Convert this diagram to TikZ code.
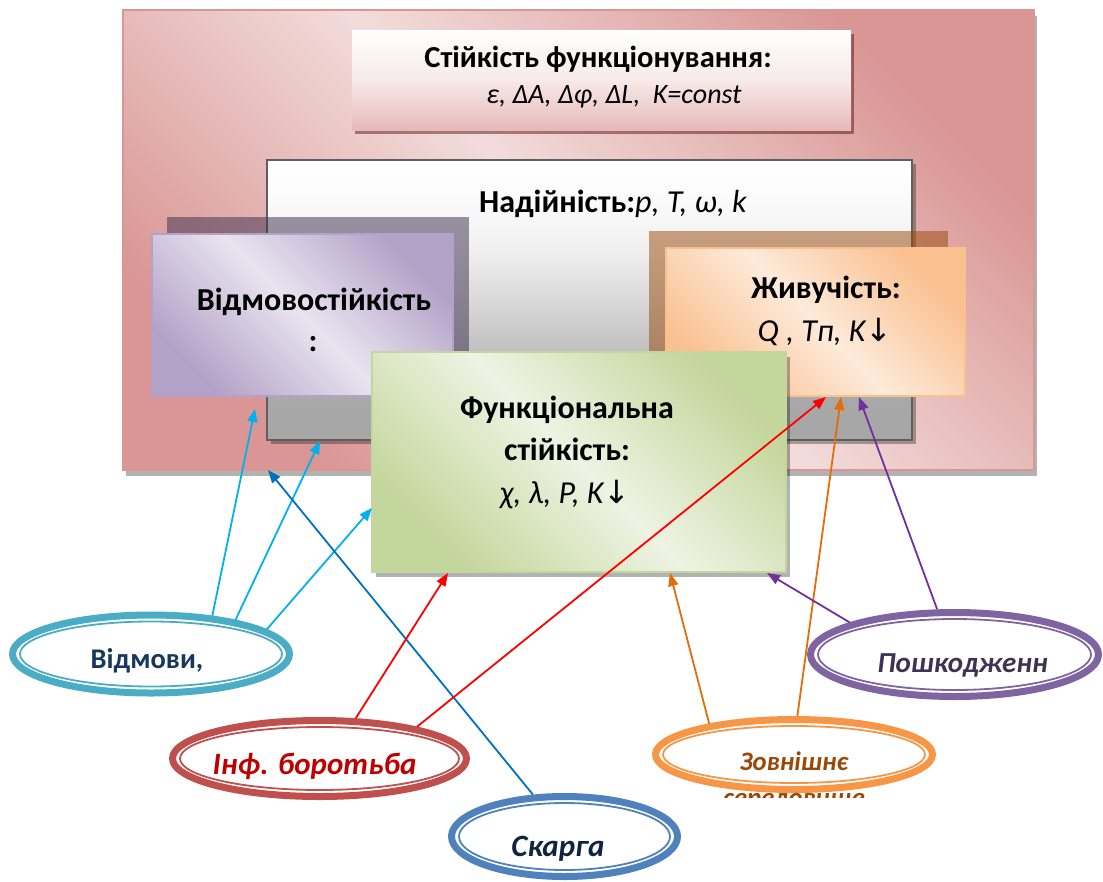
\documentclass[tikz,border=0pt]{standalone}
\usepackage{fontspec}
\setmainfont{Carlito}
\newfontfamily\arrowfont{DejaVu Sans}
\usetikzlibrary{calc,shapes.geometric,shadows,arrows.meta}

% palette
\definecolor{pinkDark}{HTML}{D99694}
\definecolor{pinkLight}{HTML}{F2DCDB}
\definecolor{pinkMid}{HTML}{E6B9B8}
\definecolor{lilacDark}{HTML}{B3A2C7}
\definecolor{lilacLight}{HTML}{E9E4F0}
\definecolor{peachDark}{HTML}{FAC090}
\definecolor{peachLight}{HTML}{FDEADA}
\definecolor{greenDark}{HTML}{C3D69B}
\definecolor{greenLight}{HTML}{EEF3E3}
\definecolor{frameGrey}{HTML}{5F5F5F}
\definecolor{backLilac}{HTML}{3F3151}
\definecolor{backBrown}{HTML}{984807}
\definecolor{gA}{HTML}{A6A6A6}
\definecolor{gB}{HTML}{A8A8A8}
\definecolor{gC}{HTML}{BEBEBE}
\definecolor{gD}{HTML}{CBCBCB}
\definecolor{gE}{HTML}{D9D9D9}
\definecolor{gF}{HTML}{F0F0F0}
\definecolor{gG}{HTML}{FBFBFB}
% connectors
\definecolor{lnSky}{HTML}{00B0F0}
\definecolor{lnBlue}{HTML}{0070C0}
\definecolor{lnRed}{HTML}{FF0000}
\definecolor{lnOrange}{HTML}{E46C0A}
\definecolor{lnViolet}{HTML}{7030A0}
% ovals
\definecolor{rgCyan}{HTML}{4BACC6}
\definecolor{rgRed}{HTML}{C0504D}
\definecolor{rgBlue}{HTML}{4F81BD}
\definecolor{rgOrange}{HTML}{F79646}
\definecolor{rgViolet}{HTML}{8064A2}
\definecolor{txNavy}{HTML}{17375E}
\definecolor{txRed}{HTML}{C00000}
\definecolor{txDeep}{HTML}{0F243E}
\definecolor{txBrown}{HTML}{984807}
\definecolor{txPlum}{HTML}{3F3151}

\pgfdeclareverticalshading{greyfade}{100bp}{color(0bp)=(gA); color(25bp)=(gA); color(32bp)=(gB); color(40bp)=(gC); color(45bp)=(gD); color(50bp)=(gE); color(59bp)=(gF); color(68bp)=(gG); color(75bp)=(white); color(100bp)=(white)}

\newcommand\dnarrow{{\arrowfont\upshape\mdseries ↓}}

\begin{document}
\begin{tikzpicture}[x=1pt,y=-1pt,
  box/.style={rectangle, inner sep=0pt, outer sep=0pt, anchor=north west},
  diag/.style 2 args={top color=#1, bottom color=#1, middle color=#2, shading angle=-45},
  ring/.style={ellipse, draw=#1, line width=7pt, fill=white, inner sep=0pt},
  innerring/.style={draw=#1, line width=1.8pt},
  conn/.style={draw=#1, line width=1.8pt, -{Triangle[length=13pt,width=10pt]}},
  headtxt/.style={font=\fontsize{30.5}{36}\selectfont\bfseries, anchor=base},
  headital/.style={font=\fontsize{28}{34}\selectfont\itshape, anchor=base},
  boxtxt/.style={font=\fontsize{32}{38}\selectfont\bfseries, anchor=base},
  boxital/.style={font=\fontsize{32}{38}\selectfont\itshape, anchor=base},
  ovtxt/.style={font=\fontsize{28.5}{34}\selectfont\bfseries, anchor=base},
  ovital/.style={font=\fontsize{31}{36}\selectfont\bfseries\itshape, anchor=base},
]
\useasboundingbox (0,0) rectangle (1103,881);
\clip (0,0) rectangle (1103,881);

% outer frame
\node[box, minimum width=911, minimum height=460, draw=pinkDark, line width=1.5pt,
  diag={pinkDark}{pinkLight},
  drop shadow={shadow xshift=3pt, shadow yshift=-6pt, fill=black, opacity=.3}]
  (frame) at (123,10) {};

% title box
\node[box, minimum width=499, minimum height=100,
  top color=white, bottom color=pinkMid, middle color=pinkLight!60!white,
  drop shadow={shadow xshift=3pt, shadow yshift=-4pt, fill=black!70!red, opacity=.45}]
  (title) at (352,30) {};
\node[headtxt] (titleA) at (598,67) {Стійкість функціонування:};
\node[headital] (titleB) at (614,103) {ε, ΔA, Δφ, ΔL,~ K=const};

% reliability box
\node[box, minimum width=645, minimum height=280, draw=frameGrey, line width=2pt,
  shading=greyfade,
  drop shadow={shadow xshift=4pt, shadow yshift=-4pt, fill=black, opacity=.3}]
  (nad) at (267,160) {};
\node[boxtxt] (nadT) at (613,212) {Надійність:\textit{\mdseries p, T, ω, k}};

% fault tolerance box with its offset back plate
\node[box, minimum width=302, minimum height=162, fill=backLilac, fill opacity=.52]
  (vidBack) at (167,217) {};
\node[box, minimum width=301, minimum height=162, draw=lilacDark, line width=1.5pt,
  diag={lilacDark}{lilacLight}] (vid) at (152,234) {};
\node[boxtxt] (vidT) at (314,310) {Відмовостійкість};
\node[boxtxt] (vidC) at (313,351) {:};

% survivability box with its offset back plate
\node[box, minimum width=299, minimum height=148, fill=backBrown, fill opacity=.5]
  (zivBack) at (649,231) {};
\node[box, minimum width=299, minimum height=148, draw=peachDark, line width=1.5pt,
  diag={peachDark}{peachLight}] (ziv) at (666,248) {};
\node[boxtxt] (zivT) at (826,298) {Живучість:};
\node[boxital] (zivP) at (825,341) {Q , Tп, K\dnarrow};

% functional stability box
\node[box, minimum width=414, minimum height=220, draw=greenDark, line width=1.5pt,
  diag={greenDark}{greenLight},
  drop shadow={shadow xshift=4pt, shadow yshift=-5pt, fill=black, opacity=.3}]
  (fun) at (372,352) {};
\node[boxtxt] (funA) at (567,418) {Функціональна};
\node[boxtxt] (funB) at (567,460) {стійкість:};
\node[boxital] (funC) at (565,503) {χ, λ, P, K\dnarrow};

% influence ovals
\node[ring=rgCyan, minimum width=277, minimum height=78] (vidm) at (151,654) {};
\draw[innerring=rgCyan] (vidm.center) ellipse [x radius=131, y radius=32.5];
\node[ovtxt, text=txNavy] (vidmT) at (147,668) {Відмови,};

\node[ring=rgRed, minimum width=294, minimum height=76] (inf) at (319.5,758.5) {};
\draw[innerring=rgRed] (inf.center) ellipse [x radius=139.5, y radius=31.5];
\node[ovital, text=txRed] (infT) at (314.5,774) {Інф. боротьба};

\node[ring=rgBlue, minimum width=226, minimum height=80] (skar) at (564.5,836.5) {};
\draw[innerring=rgBlue] (skar.center) ellipse [x radius=105.5, y radius=33.5];
\node[ovital, text=txDeep] (skarT) at (558,856) {Скарга};

\node[ring=rgOrange, minimum width=277, minimum height=70] (zov) at (794,754.5) {};
\draw[innerring=rgOrange] (zov.center) ellipse [x radius=131, y radius=28.5];
\node[ovital, text=txBrown, font=\fontsize{26.7}{32}\selectfont\bfseries\itshape] (zovA) at (794,770) {Зовнішнє};
\begin{scope}
  \clip (640,700) rectangle (950,797);
  \node[ovital, text=txBrown, font=\fontsize{26.7}{32}\selectfont\bfseries\itshape] (zovB) at (794,806) {середовище};
\end{scope}

\node[ring=rgViolet, minimum width=288, minimum height=84] (posh) at (954.5,654.5) {};
\draw[innerring=rgViolet] (posh.center) ellipse [x radius=136.5, y radius=35.5];
\node[ovital, text=txPlum, font=\fontsize{29}{34}\selectfont\bfseries\itshape] (poshT) at (962.5,672) {Пошкодженн};

% influence connectors
\draw[conn=lnSky] (vidm.32) -- ($(vid.south west)+(103,13)$);
\draw[conn=lnSky] (vidm.22) -- ($(nad.south west)+(53,1)$);
\draw[conn=lnSky] (vidm.12) -- ($(fun.south west)+(0,-64)$);
\draw[conn=lnBlue] (skar.127) -- ($(frame.south west)+(145,0)$);
\draw[conn=lnRed] (inf.48) -- ($(fun.south west)+(76,1)$);
\draw[conn=lnRed] (inf.18) -- ($(ziv.south west)+(160,1)$);
\draw[conn=lnOrange] (zov.160) -- ($(fun.south west)+(298,1)$);
\draw[conn=lnOrange] (zov.85) -- ($(ziv.south west)+(175,1)$);
\draw[conn=lnViolet] (posh.163) -- ($(fun.south west)+(395,1)$);
\draw[conn=lnViolet] (posh.111) -- ($(ziv.south west)+(193,1)$);
\end{tikzpicture}
\end{document}
